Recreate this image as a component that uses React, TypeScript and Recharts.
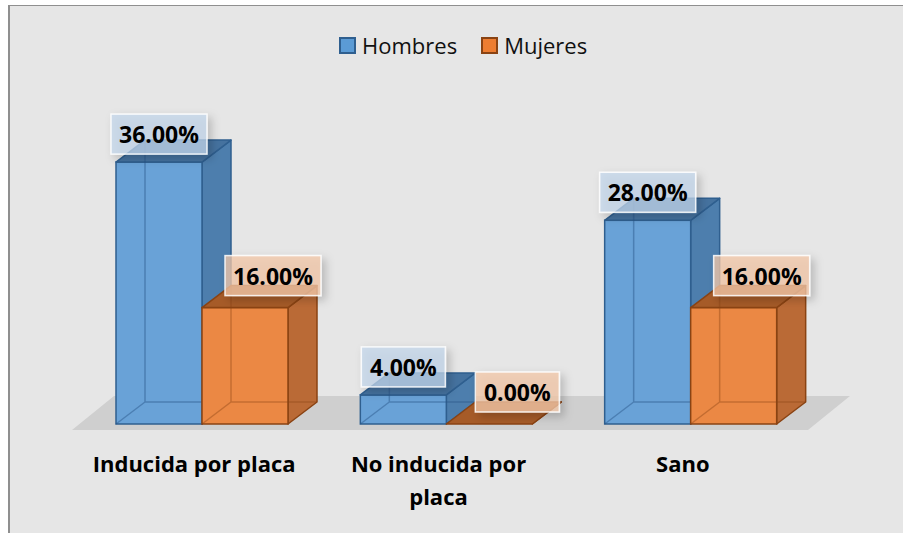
import React from 'react';
import { BarChart, Bar, XAxis, YAxis, Legend, LabelList } from 'recharts';

const categories = ['Inducida por placa', 'No inducida por placa', 'Sano'];
const hombres = [0.36, 0.04, 0.28];
const mujeres = [0.16, 0.0, 0.16];
const seriesNames = ['Hombres', 'Mujeres'];

const data = categories.map((name, i) => ({
  name,
  Hombres: hombres[i],
  Mujeres: mujeres[i],
}));

const W = 903;
const H = 533;
const MARGIN = { top: 133, right: 90, bottom: 29, left: 80 };
const AXIS_H = 80;
const BASE_Y = H - MARGIN.bottom - AXIS_H;
const DX = 29;
const DY = 22;
const FONT = '"Open Sans", sans-serif';

const BLUE = {
  front: '#69A2D7',
  side: '#4D7EAD',
  top: '#45729F',
  edge: '#2F5F8F',
  inner: 'rgba(40,85,135,0.45)',
  label: 'rgba(196,215,236,0.72)',
  swatch: '#5B9BD5',
};
const ORANGE = {
  front: '#EB8844',
  side: '#BA6A36',
  top: '#A65B28',
  edge: '#8A4313',
  inner: 'rgba(138,67,19,0.4)',
  label: 'rgba(244,200,170,0.75)',
  swatch: '#ED7D31',
};
const PALETTES = [BLUE, ORANGE];

const pts = (arr: number[][]) => arr.map((p) => p.join(',')).join(' ');

function Box3D(props: any) {
  const { pal } = props;
  const x = Number(props.x);
  const y = Number(props.y);
  const w = Number(props.width);
  const h = Math.max(0, Number(props.height) || 0);
  const r = x + w;
  const b = y + h;
  return (
    <g>
      <polygon
        points={pts([[r, y], [r + DX, y - DY], [r + DX, b - DY], [r, b]])}
        fill={pal.side}
        stroke={pal.edge}
        strokeWidth={1.5}
        strokeLinejoin="round"
      />
      <rect x={x} y={y} width={w} height={h} fill={pal.front} stroke={pal.edge} strokeWidth={1.5} />
      <polygon
        points={pts([[x, y], [x + DX, y - DY], [r + DX, y - DY], [r, y]])}
        fill={pal.top}
        stroke={pal.edge}
        strokeWidth={1.5}
        strokeLinejoin="round"
      />
      {h > 0 && (
        <path
          d={`M${x + DX},${y - DY} L${x + DX},${b - DY} L${r + DX},${b - DY} M${x},${b} L${x + DX},${b - DY}`}
          stroke={pal.inner}
          strokeWidth={1.5}
          fill="none"
        />
      )}
    </g>
  );
}

const makeLabel = (pal: any, shiftX: number, shiftY: number) => (props: any) => {
  const { x, y, width, value } = props;
  const text = (Number(value) * 100).toFixed(2) + '%';
  const cx = Number(x) + Number(width) / 2 + shiftX;
  const cy = Number(y) - shiftY;
  const bw = text.length * 12 + 24;
  const bh = 40;
  return (
    <g>
      <rect
        x={cx - bw / 2}
        y={cy - bh / 2}
        width={bw}
        height={bh}
        fill={pal.label}
        stroke="rgba(255,255,255,0.85)"
        strokeWidth={1.5}
        filter="url(#lblShadow)"
      />
      <text
        x={cx}
        y={cy}
        textAnchor="middle"
        dominantBaseline="central"
        fontFamily={FONT}
        fontWeight={700}
        fontSize={23}
        fill="#000"
      >
        {text}
      </text>
    </g>
  );
};

function wrap(s: string, max: number) {
  const words = s.split(' ');
  const lines: string[] = [];
  let cur = '';
  words.forEach((wd) => {
    const next = cur ? cur + ' ' + wd : wd;
    if (next.length > max && cur) {
      lines.push(cur);
      cur = wd;
    } else {
      cur = next;
    }
  });
  if (cur) lines.push(cur);
  return lines;
}

function CategoryTick(props: any) {
  const { x, y, payload } = props;
  const lines = wrap(String(payload.value), 19);
  return (
    <g transform={`translate(${Number(x) - 8},${Number(y)})`}>
      {lines.map((ln, i) => (
        <text
          key={i}
          x={0}
          y={48 + i * 33}
          textAnchor="middle"
          fontFamily={FONT}
          fontWeight={700}
          fontSize={22}
          fill="#000"
        >
          {ln}
        </text>
      ))}
    </g>
  );
}

function LegendContent() {
  return (
    <div style={{ display: 'flex', alignItems: 'center', fontFamily: FONT, fontSize: 22, color: '#111', lineHeight: '32px' }}>
      {seriesNames.map((nm, i) => (
        <div key={nm} style={{ display: 'flex', alignItems: 'center', marginRight: 24 }}>
          <span
            style={{
              display: 'inline-block',
              width: 13,
              height: 13,
              background: PALETTES[i].swatch,
              border: `2px solid ${PALETTES[i].edge}`,
              marginRight: 6,
            }}
          />
          <span>{nm}</span>
        </div>
      ))}
    </div>
  );
}

export default function App() {
  const floorL = MARGIN.left;
  const floorR = W - MARGIN.right;
  return (
    <div style={{ position: 'absolute', left: 0, top: 0, width: W, height: H, background: '#fff', overflow: 'hidden' }}>
      <div
        style={{
          position: 'absolute',
          left: 8,
          top: 5,
          width: W,
          height: H,
          background: '#E6E6E6',
          borderLeft: '2px solid #8F8F8F',
          borderTop: '1px solid #8F8F8F',
        }}
      />
      <svg width={W} height={H} style={{ position: 'absolute', left: 0, top: 0 }}>
        <defs>
          <filter id="lblShadow" x="-30%" y="-30%" width="160%" height="170%">
            <feDropShadow dx="4" dy="4" stdDeviation="4" floodColor="#000" floodOpacity="0.25" />
          </filter>
        </defs>
        <polygon
          points={pts([
            [floorL - 8, BASE_Y + 6],
            [floorL + 34, BASE_Y - 28],
            [floorR + 37, BASE_Y - 28],
            [floorR - 5, BASE_Y + 6],
          ])}
          fill="#CFCFCF"
        />
      </svg>
      <div style={{ position: 'absolute', left: 0, top: 0 }}>
        <BarChart width={W} height={H} data={data} margin={MARGIN} barGap={0} barSize={86}>
          <XAxis
            dataKey="name"
            height={AXIS_H}
            axisLine={false}
            tickLine={false}
            tickSize={0}
            tickMargin={0}
            interval={0}
            tick={<CategoryTick />}
          />
          <YAxis hide width={0} domain={[0, 0.4]} />
          <Legend
            verticalAlign="middle"
            align="center"
            layout="horizontal"
            wrapperStyle={{ top: 29, left: 339, width: 320, height: 32 }}
            content={() => <LegendContent />}
          />
          <Bar dataKey="Hombres" name="Hombres" isAnimationActive={false} shape={(p: any) => <Box3D {...p} pal={BLUE} />}>
            <LabelList dataKey="Hombres" content={makeLabel(BLUE, 0, 28)} />
          </Bar>
          <Bar dataKey="Mujeres" name="Mujeres" isAnimationActive={false} shape={(p: any) => <Box3D {...p} pal={ORANGE} />}>
            <LabelList dataKey="Mujeres" content={makeLabel(ORANGE, 28, 32)} />
          </Bar>
        </BarChart>
      </div>
    </div>
  );
}
